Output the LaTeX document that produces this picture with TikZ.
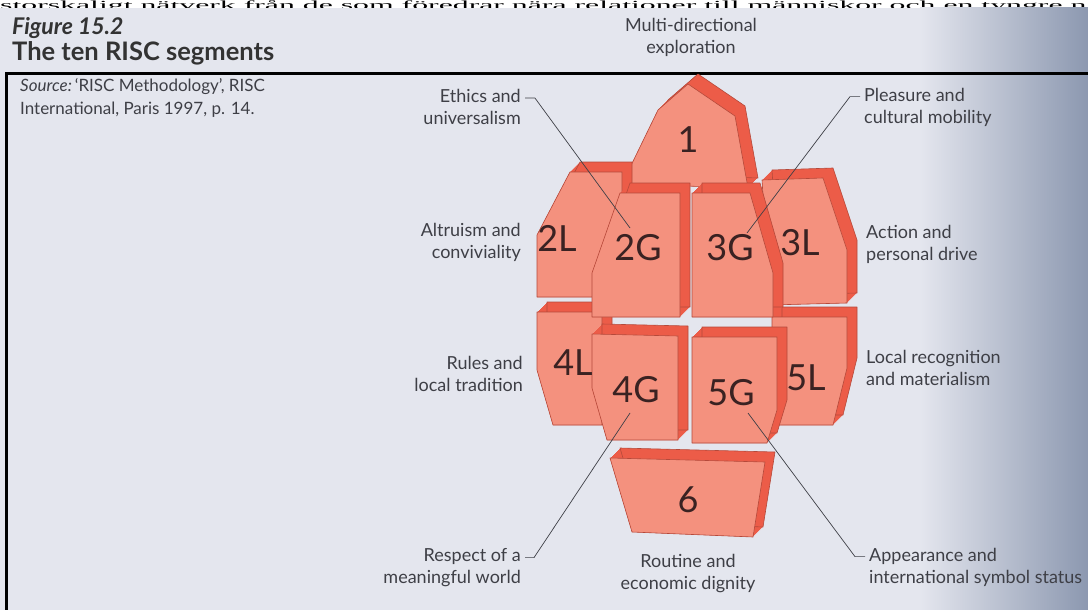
\documentclass[tikz,border=0pt]{standalone}
\usepackage{fontspec}
\setmainfont{Lato}
\newfontfamily\serifsw{Liberation Serif}
\usetikzlibrary{calc}
\definecolor{bgc}{HTML}{E4E6EE}
\definecolor{bgd}{HTML}{8C98B0}
\definecolor{frontc}{HTML}{F4917E}
\definecolor{sidec}{HTML}{EC5C48}
\definecolor{edgec}{HTML}{B5493A}
\definecolor{txt}{HTML}{3E3F46}
\definecolor{lbl}{HTML}{3A2222}
\tikzset{
  sidef/.style={fill=sidec},
  backline/.style={draw=edgec, line width=0.6pt, line join=round},
  frontf/.style={fill=frontc, draw=edgec, line width=0.6pt, line join=round},
  seg/.style={font=\fontsize{36}{36}\selectfont, text=lbl, inner sep=0pt},
  lab/.style={font=\fontsize{18}{22}\selectfont, text=txt, inner sep=0pt},
  leader/.style={draw=txt, line width=0.7pt},
}
\newcommand\blk[1]{%
  \foreach \t in {0,1,...,10}{%
    \begin{scope}[shift={(\t,-\t)}]
      \fill[sidef] plot coordinates {#1} -- cycle;
    \end{scope}}%
  \begin{scope}[shift={(10,-10)}]
    \draw[backline] plot coordinates {#1} -- cycle;
  \end{scope}
  \filldraw[frontf] plot coordinates {#1} -- cycle;
}
\begin{document}
\begin{tikzpicture}[x=1pt,y=-1pt]
\useasboundingbox (0,0) rectangle (1088,610);
\begin{scope}
\clip (0,0) rectangle (1088,610);
\fill[white] (0,0) rectangle (1088,610);
\begin{scope}
\clip (0,0) rectangle (1088,8);
\node[anchor=base west, inner sep=0pt, font=\serifsw\fontsize{31}{31}\selectfont] (sw) at (0,9.5) {\smash{\scalebox{1.025}[0.4]{storskaligt nätverk från de som föredrar nära relationer till människor och en tyngre n}}};
\end{scope}
\fill[bgc] (0,8) rectangle (1088,610);
\shade[left color=bgc, right color=bgd] (920,8) rectangle (1088,610);
\draw[line width=3pt] (1092,74) -- (6,74) -- (6,614);

% titles
\node[anchor=west, inner sep=0pt, text=black!80, font=\fontsize{23}{23}\selectfont\bfseries\itshape] (fig) at (12,28) {Figure 15.2};
\node[anchor=west, inner sep=0pt, text=black!80, font=\fontsize{25.5}{25.5}\selectfont\bfseries] (ttl) at (12,53) {The ten RISC segments};
\node[anchor=west, inner sep=0pt, text=txt, font=\fontsize{17}{17}\selectfont] (src1) at (20,87) {\textit{Source:}\,‘RISC Methodology’, RISC};
\node[anchor=west, inner sep=0pt, text=txt, font=\fontsize{17}{17}\selectfont] (src2) at (20,110) {International, Paris 1997, p. 14.};

% blocks
\blk{(622,184) (658,110) (688,84) (735,116) (748,188)}
\blk{(570,172) (622,172) (622,297) (537,297) (537,235)}
\blk{(762,180) (823,178) (847,250) (847,303) (770,305)}
\blk{(537,312) (602,312) (602,425) (553,425) (537,370)}
\blk{(772,317) (847,317) (847,368) (833,425) (772,425)}
\blk{(610,458) (765,462) (753,537) (632,532)}
\blk{(620,193) (680,193) (680,317) (592,317) (592,273)}
\blk{(692,193) (750,193) (773,273) (773,317) (692,317)}
\blk{(592,334) (678,336) (678,440) (607,440) (592,388)}
\blk{(692,337) (777,337) (777,410) (767,443) (692,443)}

\node[seg] (s1) at (688,140) {1};
\node[seg] (s2L) at (557,238) {2L};
\node[seg] (s3L) at (800,243) {3L};
\node[seg] (s2G) at (638,248) {2G};
\node[seg] (s3G) at (730,248) {3G};
\node[seg] (s4L) at (573,363) {4L};
\node[seg] (s4G) at (636,390) {4G};
\node[seg] (s5G) at (731,393) {5G};
\node[seg] (s5L) at (806,378) {5L};
\node[seg] (s6) at (688,500) {6};

% labels
\node[lab, align=center] (multi) at (691,37) {Multi-directional\\exploration};
\node[lab, align=right, anchor=east] (ethics) at (521,107) {Ethics and\\universalism};
\node[lab, align=left, anchor=west] (pleasure) at (864,107) {Pleasure and\\cultural mobility};
\node[lab, align=right, anchor=east] (altruism) at (521,242) {Altruism and\\conviviality};
\node[lab, align=left, anchor=west] (action) at (866,244) {Action and\\personal drive};
\node[lab, align=right, anchor=east] (rules) at (523,374) {Rules and\\local tradition};
\node[lab, align=left, anchor=west] (localr) at (866,368) {Local recognition\\and materialism};
\node[lab, align=right, anchor=east] (respect) at (521,568) {Respect of a\\meaningful world};
\node[lab, align=center] (routine) at (688,574) {Routine and\\economic dignity};
\node[lab, align=left, anchor=west] (appear) at (869,567) {Appearance and\\international symbol status};

% leaders
\coordinate (e1) at (630,228);
\coordinate (p1) at (747,233);
\coordinate (r1) at (630,413);
\coordinate (a1) at (748,413);
\draw[leader] ($(ethics.north east)+(4,9)$) -- ++(10,0) -- (e1);
\draw[leader] ($(pleasure.north west)+(-4,9)$) -- ++(-10,0) -- (p1);
\draw[leader] ($(respect.north east)+(4,9)$) -- ++(9,0) -- (r1);
\draw[leader] ($(appear.north west)+(-4,9)$) -- ++(-10,0) -- (a1);
\end{scope}
\end{tikzpicture}
\end{document}
